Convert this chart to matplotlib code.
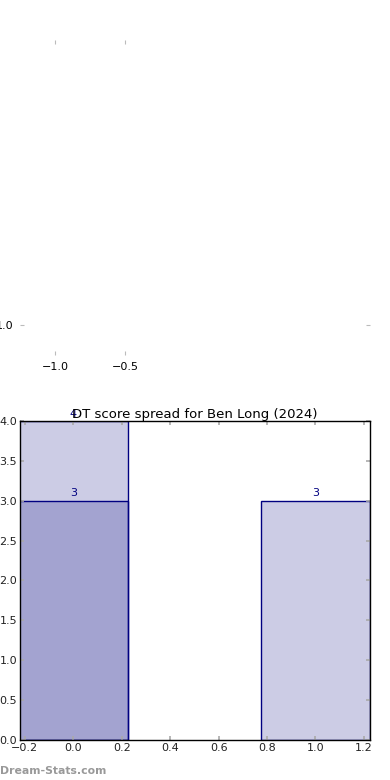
import matplotlib
matplotlib.use('Agg')
import matplotlib.pyplot as plt
from matplotlib.ticker import FormatStrFormatter

# bar data
positions = [0, 1]
counts_all = [4, 3]
counts_top = [3, 0]
title = 'DT score spread for Ben Long (2024)'
bar_color = 'navy'
bar_fill = (0.0, 0.0, 0.5, 0.2)

plt.rcParams['font.family'] = 'DejaVu Sans'
plt.rcParams['xtick.direction'] = 'in'
plt.rcParams['ytick.direction'] = 'in'

fig = plt.figure(figsize=(3.9, 7.8), dpi=100)

# empty leftover axes at top
ax0 = fig.add_axes([0.0513, 0.5449, 0.8974, 0.4038])
ax0.set_xlim(-1.25, 1.243)
ax0.set_ylim(0.786, 3.036)
ax0.set_xticks([-1.0, -0.5])
ax0.set_yticks([1.0])
ax0.yaxis.set_major_formatter(FormatStrFormatter('%.1f'))
for s in ax0.spines.values():
    s.set_visible(False)
ax0.tick_params(colors='#bbbbbb', labelcolor='black', labelsize=8, length=3,
                top=True, right=True, pad=5)

# bar chart
ax = fig.add_axes([0.0513, 0.0513, 0.8974, 0.409])
ax.bar(positions, counts_all, width=0.45, facecolor=bar_fill,
       edgecolor=bar_color, linewidth=1)
ax.bar(positions[:1], counts_top[:1], width=0.45, facecolor=bar_fill,
       edgecolor=bar_color, linewidth=1)
for p, v in zip(positions, counts_all):
    ax.text(p, v + 0.03, str(v), ha='center', va='bottom', color=bar_color, fontsize=8)
ax.text(positions[0], counts_top[0] + 0.03, str(counts_top[0]), ha='center',
        va='bottom', color=bar_color, fontsize=8)

ax.set_xlim(-0.22, 1.225)
ax.set_ylim(0, 4)
ax.set_xticks([-0.2, 0.0, 0.2, 0.4, 0.6, 0.8, 1.0, 1.2])
ax.set_yticks([0.0, 0.5, 1.0, 1.5, 2.0, 2.5, 3.0, 3.5, 4.0])
ax.tick_params(colors='#aaaaaa', labelcolor='#222222', labelsize=8, length=3,
               top=True, right=True, pad=2, width=1.2)
for s in ax.spines.values():
    s.set_color('black')
    s.set_linewidth(1)
    s.set_zorder(3)
ax.set_title(title, fontsize=9.5, pad=2)

fig.text(0.0, 0.005, 'Dream-Stats.com', color='#999999', fontsize=7.8,
         fontweight='semibold', ha='left', va='bottom')

fig.savefig('out.png', dpi=100, facecolor='white')
